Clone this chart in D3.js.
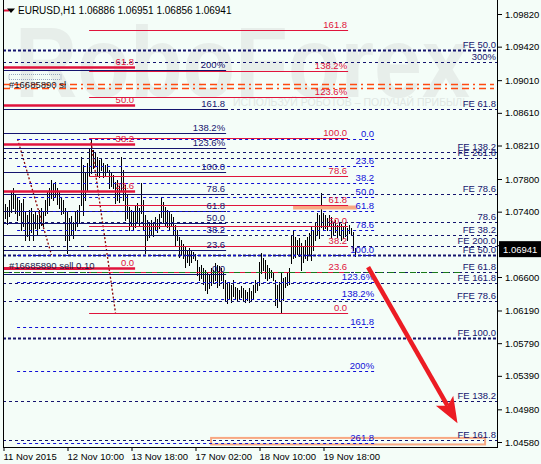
<!DOCTYPE html>
<html><head><meta charset="utf-8">
<script src="https://cdn.jsdelivr.net/npm/d3@7"></script>
<style>
body{margin:0;background:#f4fdf8;}
svg{display:block;font-family:"Liberation Sans",Arial,sans-serif;}
</style>
</head><body><svg id="c" width="541" height="464"></svg>
<script>
// ---------------- DATA ----------------
const symbolTitle = "EURUSD,H1  1.06886 1.06951 1.06856 1.06941";
const lastPrice = 1.06941;
const priceTicks = [1.09820,1.09420,1.09010,1.08610,1.08210,1.07800,1.07400,1.06990,1.06600,1.06190,1.05790,1.05390,1.04980,1.04580];
const timeTickBars = [0,32,64,96,128,160];
const timeTickLabels = ["11 Nov 2015","12 Nov 10:00","13 Nov 18:00","17 Nov 02:00","18 Nov 10:00","19 Nov 18:00"];

const barHigh = [
1.0747,1.0749,1.0746,1.0754,1.0764,1.0769,1.0760,1.0758,1.0754,1.0751,
1.0755,1.0740,1.0736,1.0742,1.0744,1.0737,1.0740,1.0736,1.0742,1.0744,
1.0740,1.0754,1.0764,1.0769,1.0779,1.0774,1.0776,1.0769,1.0764,1.0757,
1.0754,1.0744,1.0740,1.0732,1.0735,1.0727,1.0740,1.0742,1.0748,1.0807,
1.0797,1.0789,1.0800,1.0818,1.0828,1.0815,1.0813,1.0807,1.0803,1.0806,
1.0800,1.0797,1.0798,1.0791,1.0789,1.0785,1.0776,1.0779,1.0771,1.0807,
1.0791,1.0773,1.0760,1.0746,1.0742,1.0740,1.0748,1.0751,1.0744,1.0775,
1.0754,1.0736,1.0730,1.0727,1.0730,1.0725,1.0733,1.0731,1.0737,1.0758,
1.0752,1.0746,1.0742,1.0740,1.0737,1.0733,1.0724,1.0718,1.0709,1.0705,
1.0700,1.0697,1.0693,1.0696,1.0693,1.0691,1.0688,1.0681,1.0672,1.0675,
1.0671,1.0669,1.0666,1.0662,1.0671,1.0669,1.0677,1.0675,1.0673,1.0671,
1.0666,1.0656,1.0651,1.0654,1.0650,1.0656,1.0648,1.0647,1.0644,1.0649,
1.0647,1.0644,1.0642,1.0647,1.0643,1.0650,1.0656,1.0654,1.0678,1.0689,
1.0683,1.0681,1.0675,1.0671,1.0669,1.0666,1.0656,1.0650,1.0654,1.0665,
1.0659,1.0660,1.0666,1.0671,1.0711,1.0718,1.0709,1.0705,1.0708,1.0702,
1.0698,1.0705,1.0709,1.0714,1.0721,1.0718,1.0727,1.0738,1.0736,1.0763,
1.0738,1.0736,1.0732,1.0736,1.0733,1.0727,1.0730,1.0724,1.0727,1.0725,
1.0722,1.0727,1.0720,1.0724,1.0720,1.0715,1.06951];
const barLow = [
1.0727,1.0732,1.0725,1.0735,1.0740,1.0744,1.0738,1.0730,1.0736,1.0718,
1.0722,1.0705,1.0710,1.0705,1.0715,1.0705,1.0720,1.0711,1.0720,1.0724,
1.0722,1.0736,1.0738,1.0748,1.0757,1.0754,1.0759,1.0749,1.0744,1.0737,
1.0738,1.0705,1.0689,1.0705,1.0713,1.0708,1.0718,1.0722,1.0727,1.0748,
1.0736,1.0754,1.0767,1.0785,1.0787,1.0793,1.0796,1.0785,1.0782,1.0791,
1.0782,1.0784,1.0789,1.0769,1.0771,1.0769,1.0751,1.0754,1.0752,1.0767,
1.0754,1.0730,1.0732,1.0718,1.0722,1.0718,1.0721,1.0727,1.0722,1.0738,
1.0718,1.0689,1.0705,1.0709,1.0713,1.0710,1.0718,1.0715,1.0720,1.0733,
1.0727,1.0722,1.0721,1.0718,1.0722,1.0711,1.0699,1.0705,1.0684,1.0687,
1.0683,1.0672,1.0678,1.0675,1.0678,1.0683,1.0681,1.0662,1.0656,1.0659,
1.0651,1.0644,1.0640,1.0647,1.0650,1.0654,1.0656,1.0648,1.0650,1.0656,
1.0647,1.0632,1.0628,1.0634,1.0629,1.0637,1.0634,1.0632,1.0633,1.0636,
1.0632,1.0629,1.0632,1.0629,1.0632,1.0634,1.0642,1.0644,1.0650,1.0665,
1.0669,1.0659,1.0656,1.0659,1.0660,1.0656,1.0626,1.0623,1.0632,1.0616,
1.0632,1.0648,1.0650,1.0651,1.0677,1.0683,1.0684,1.0688,1.0686,1.0669,
1.0678,1.0683,1.0681,1.0687,1.0681,1.0693,1.0705,1.0711,1.0708,1.0721,
1.0718,1.0720,1.0718,1.0722,1.0709,1.0711,1.0715,1.0709,1.0713,1.0705,
1.0708,1.0710,1.0705,1.0714,1.0713,1.0693,1.06856];

// Fibonacci tools (price of 0% and 100%, levels, labels)
const fibA_levels = [0,23.6,38.2,50,61.8];
const fibA_labels = ["0.0","23.6","38.2","50.0","61.8"];
const fibB_levels = [0,23.6,38.2,50,61.8,78.6,100,123.6,138.2,161.8];
const fibB_labels = ["0.0","23.6","38.2","50.0","61.8","78.6","100.0","123.6%","138.2%","161.8"];
const fibC_levels = [0,23.6,38.2,50,61.8,78.6,100,123.6,138.2,161.8,200];
const fibC_labels = ["0.0","23.6","38.2","50.0","61.8","78.6","100.0","123.6%","138.2%","161.8","200%"];
const fibD_levels = [0,23.6,38.2,50,61.8,78.6,100,123.6,138.2,161.8,200,261.8];
const fibD_labels = ["0.0","23.6","38.2","50.0","61.8","78.6","100.0","123.6%","138.2%","161.8","200%","261.8"];

// Fibonacci expansion lines across the chart
const feLevels = [1.0938,1.0923,1.0866,1.0813,1.0806,1.0762,1.0727,1.0711,1.0698,1.0687,1.0666,1.0653,1.0631,1.0585,1.0508,1.0460];
const feLabels = ["FE 50.0","300%","FE 61.8","FE 138.2","FE 261.8","FE 78.6","78.6","FE 38.2","FE 200.0","FE 50.0","FE 61.8","FE 161.8","FFE 78.6","FE 100.0","FE 138.2","FE 161.8"];
const feHeavy = [true,false,false,false,false,false,false,false,false,true,false,false,false,true,false,false];

const stopLossPrice = 1.0894;
const orderPrice = 1.0666;
const orderLabel = "#16685890 sell 0.10";
const slLabel = "#16685890 sl";

// ---------------- SCALES ----------------
const W=541,H=464;
const x = d3.scaleLinear().domain([0,247]).range([3.5,497.5]);
const y = d3.scaleLinear().domain([1.09820,1.04580]).range([14,442]);
const py = p => Math.round(y(p)) + 0.5;

const RED="#e0143c", NAVY="#14146e", BLUE="#1010d8", DRED="#8b0000";
const svg=d3.select('#c');
svg.append('rect').attr('width',W).attr('height',H).attr('fill','#f4fdf8');
svg.append('clipPath').attr('id','pc').append('rect').attr('x',3).attr('y',0).attr('width',495).attr('height',447);
const g=svg.append('g').attr('clip-path','url(#pc)');

// watermark
g.append('text').attr('x',15).attr('y',97).attr('font-size',100).attr('font-weight','bold')
 .attr('fill','#e7eeea').attr('textLength',455).attr('lengthAdjust','spacingAndGlyphs').text('RoboForex');
g.append('text').attr('x',233).attr('y',106).attr('font-size',10.5).attr('fill','#e1e8e4')
 .text('ИСПОЛЬЗУЙ РОБОТОВ – ПОЛУЧАЙ ПРИБЫЛЬ');

// bars
g.append('g').selectAll('line').data(barHigh).join('line')
 .attr('x1',(d,i)=>x(i)).attr('x2',(d,i)=>x(i))
 .attr('y1',d=>Math.round(y(d))).attr('y2',(d,i)=>Math.round(y(barLow[i]))+1)
 .attr('stroke','#000').attr('stroke-width',1);

// trend lines of fib tools
function trend(b0,p0,b1,p1){
  g.append('line').attr('x1',x(b0)).attr('y1',y(p0)).attr('x2',x(b1)).attr('y2',y(p1))
   .attr('stroke',DRED).attr('stroke-width',1.3).attr('stroke-dasharray','2,2');
}
trend(7,1.0829,24,1.0687);
trend(43.5,1.0830,56,1.0616);

// full-width FE lines
feLevels.forEach((p,i)=>{
  g.append('line').attr('x1',3).attr('x2',498).attr('y1',py(p)).attr('y2',py(p))
   .attr('stroke',NAVY).attr('stroke-width',feHeavy[i]?2:1).attr('stroke-dasharray',feHeavy[i]?'3,2':'3,3');
});

function fib(p0,p100,levels,labels,from,to,color,width,dash,labelColor){
  levels.forEach((lv,i)=>{
    const p=p0+(p100-p0)*lv/100, yy=py(p);
    g.append('line').attr('x1',x(from)).attr('x2',x(to)).attr('y1',yy).attr('y2',yy)
     .attr('stroke',color).attr('stroke-width',width).attr('stroke-dasharray',dash||null);
  });
}
function fibText(p0,p100,levels,labels,to,labelColor){
  levels.forEach((lv,i)=>{
    const p=p0+(p100-p0)*lv/100, yy=py(p);
    g.append('text').attr('x',x(to)-1).attr('y',yy-2.5).attr('text-anchor','end')
     .attr('font-size',9.5).attr('fill',labelColor).text(labels[i]);
  });
}
// salmon highlights
g.append('line').attr('x1',x(144.8)).attr('x2',x(176.8)).attr('y1',py(1.0746)).attr('y2',py(1.0746))
 .attr('stroke','#f8a882').attr('stroke-width',4);
g.append('rect').attr('x',x(103.8)).attr('width',x(240.8)-x(103.8)).attr('y',y(1.0463)).attr('height',y(1.0455)-y(1.0463))
 .attr('fill','none').attr('stroke','#f8a882').attr('stroke-width',2);

fib(1.06635,1.07882,fibC_levels,fibC_labels,-1,111.3,NAVY,1);
fib(1.0829,1.0687,fibD_levels,fibD_labels,6.8,185.8,BLUE,1,'3,3');
fib(1.0616,1.0830,fibB_levels,fibB_labels,42.8,172.3,RED,1);
fib(1.0671,1.1069,fibA_levels,fibA_labels,-1,65.8,RED,2.5);
g.append('line').attr('x1',x(-1)).attr('x2',x(44)).attr('y1',py(1.0671)).attr('y2',py(1.0671)).attr('stroke',RED).attr('stroke-width',3);

// stop loss (double dash-dot orange) and order line (green)
[-2,2].forEach(o=>{
  g.append('line').attr('x1',3).attr('x2',494).attr('y1',py(stopLossPrice)+o).attr('y2',py(stopLossPrice)+o)
   .attr('stroke','#ff4a10').attr('stroke-width',1.3).attr('stroke-dasharray','7,4,7,4,2,4');
});
g.append('line').attr('x1',3).attr('x2',463).attr('y1',py(orderPrice)).attr('y2',py(orderPrice))
 .attr('stroke','#1a7a1a').attr('stroke-width',1).attr('stroke-dasharray','6,5');

// labels
fibText(1.06635,1.07882,fibC_levels,fibC_labels,111.3,NAVY);
fibText(1.0829,1.0687,fibD_levels,fibD_labels,185.8,BLUE);
fibText(1.0616,1.0830,fibB_levels,fibB_labels,172.3,RED);
fibText(1.0671,1.1069,fibA_levels,fibA_labels,65.8,RED);
feLevels.forEach((p,i)=>{
  g.append('text').attr('x',496).attr('y',py(p)-2.5).attr('text-anchor','end')
   .attr('font-size',9.5).attr('fill',NAVY).text(feLabels[i]);
});
g.append('text').attr('x',9).attr('y',py(stopLossPrice)+1.5).attr('font-size',9.5).attr('fill','#1a1a2a').text(slLabel);
g.append('rect').attr('x',9).attr('y',py(stopLossPrice)-12).attr('width',52).attr('height',5)
 .attr('fill','none').attr('stroke','#8090b0').attr('stroke-width',0.8).attr('stroke-dasharray','1,1');
g.append('text').attr('x',9).attr('y',py(orderPrice)-4).attr('font-size',9.5).attr('fill','#1a1a4a').text(orderLabel);

// red arrow
(function(){
  const x0=x(182.3),y0=y(1.0672),x1=x(227),y1=y(1.0481);
  const dx=x1-x0,dy=y1-y0,L=Math.hypot(dx,dy),ux=dx/L,uy=dy/L,px=-uy,pyy=ux;
  const hl=26,hw=10,notch=6;
  const bx=x1-ux*hl,by=y1-uy*hl;
  g.append('line').attr('x1',x0).attr('y1',y0).attr('x2',x1-ux*(hl-notch)).attr('y2',y1-uy*(hl-notch))
   .attr('stroke','#ec1c24').attr('stroke-width',4.5);
  g.append('path').attr('d',`M${x1},${y1}L${bx+px*hw},${by+pyy*hw}L${x1-ux*(hl-notch)},${y1-uy*(hl-notch)}L${bx-px*hw},${by-pyy*hw}Z`)
   .attr('fill','#ec1c24');
})();

// header
g.append('text').attr('x',18).attr('y',14).attr('font-size',10).attr('fill','#000').text(symbolTitle);
g.append('line').attr('x1',4).attr('x2',9).attr('y1',10.5).attr('y2',10.5).attr('stroke',RED).attr('stroke-width',2);
g.append('path').attr('d','M7,8.5L15,8.5L11,13Z').attr('fill','#000');

// axes
const ax=svg.append('g').attr('transform','translate(498,0)')
 .call(d3.axisRight(y).tickValues(priceTicks).tickFormat(d=>d.toFixed(5)).tickSize(4).tickSizeOuter(0));
ax.select('.domain').remove();
ax.selectAll('text').attr('font-size',9.5).attr('font-family','"Liberation Sans",Arial,sans-serif').attr('fill','#000').attr('x',7);
ax.selectAll('line').attr('stroke','#000');
const bx=svg.append('g').attr('transform','translate(0,447)')
 .call(d3.axisBottom(x).tickValues(timeTickBars).tickFormat((d,i)=>timeTickLabels[i]).tickSize(4).tickSizeOuter(0));
bx.select('.domain').remove();
bx.selectAll('text').attr('font-size',9.5).attr('font-family','"Liberation Sans",Arial,sans-serif').attr('fill','#000')
 .attr('text-anchor','start').attr('dx',-0.5).attr('y',6);
bx.selectAll('line').attr('stroke','#000');
svg.append('line').attr('x1',3.5).attr('x2',3.5).attr('y1',0).attr('y2',447.5).attr('stroke','#000');
svg.append('line').attr('x1',497.5).attr('x2',497.5).attr('y1',0).attr('y2',447.5).attr('stroke','#000');
svg.append('line').attr('x1',3).attr('x2',498).attr('y1',447.5).attr('y2',447.5).attr('stroke','#000');

// current price box
const cy=y(lastPrice);
svg.append('rect').attr('x',499).attr('y',cy-8).attr('width',42).attr('height',16).attr('fill','#000');
svg.append('text').attr('x',503).attr('y',cy+3.5).attr('font-size',9.5).attr('fill','#fff').text(lastPrice.toFixed(5));
</script>
</body></html>
